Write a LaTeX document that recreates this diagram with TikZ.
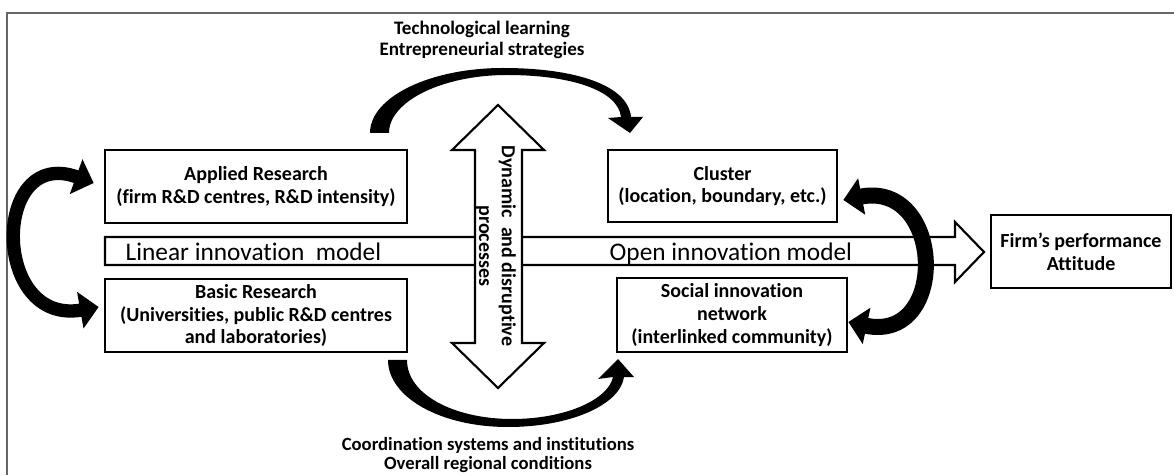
\documentclass[tikz,border=0pt]{standalone}
\usepackage{fontspec}
\setmainfont{Carlito}[Ligatures=NoCommon]
\usetikzlibrary{arrows.meta}
\newcommand{\boxfont}{\fontsize{15}{17}\selectfont\bfseries}
\newcommand{\notefont}{\fontsize{14.3}{16}\selectfont\bfseries}
\newcommand{\modelfont}{\fontsize{19}{22}\selectfont}
\tikzset{
box/.style={draw, line width=2pt, fill=white, align=center, font=\boxfont, inner sep=1pt},
note/.style={align=center, font=\notefont},
blockarrow/.style={draw, line width=1.6pt, fill=white},
twoway/.style={line width=#1, {Triangle[length=14pt,width=27pt]}-{Triangle[length=14pt,width=27pt]}},
}

\begin{document}
\begin{tikzpicture}[x=0.75pt,y=0.75pt]
\useasboundingbox (0,0) rectangle (1174,475);
% the frame
\draw[black!60, line width=1pt] (7,0) -- (7,462) -- (1174,462);

% the boxes
\node[box, minimum width=226.5pt, minimum height=54.75pt] (applied) at (256,288.5) {Applied Research\\(firm R\&D centres, R\&D intensity)};
\node[box, minimum width=226.5pt, minimum height=54.75pt] (basic) at (256,159.5) {Basic Research\\(Universities, public R\&D centres\\and laboratories)};
\node[box, minimum width=171.75pt, minimum height=54pt] (cluster) at (722.5,289) {Cluster\\(location, boundary, etc.)};
\node[box, minimum width=172.5pt, minimum height=55.5pt] (social) at (732,160) {Social innovation\\network\\(interlinked community)};
\node[box, minimum width=135pt, minimum height=54.75pt] (firm) at (1081,223.5) {Firm’s performance\\Attitude};

% the innovation model arrow
\draw[blockarrow] (105,238) -- (955,238) -- (955,253) -- (984,223) -- (955,193) -- (955,210) -- (105,210) -- cycle;
\node[anchor=base west, font=\modelfont] (linear) at (121,214) {Linear innovation\ \ model};
\node[anchor=base west, font=\modelfont] (open) at (605,214) {Open innovation model};

% the dynamic arrow
\draw[blockarrow] (498,370) -- (544,325) -- (522,325) -- (522,132) -- (544,132) -- (498,87) -- (452,132) -- (475,132) -- (475,325) -- (452,325) -- cycle;
\node[note, font=\boxfont, rotate=-90] (dynamic) at (496,229) {Dynamic\ \ and disruptive\\processes};

% the curved arrows
\fill (370,342) .. controls (370,378) and (430,407) .. (503,407)
  .. controls (575,407) and (628,390) .. (631,358)
  -- (643,358) -- (630,342) -- (608,357) -- (621,358)
  .. controls (618,385) and (570,400) .. (507,400)
  .. controls (443,400) and (389,374) .. (389,342) -- cycle;
\fill (388,115) .. controls (388,78) and (440,48) .. (508,48)
  .. controls (570,48) and (620,70) .. (624,98)
  -- (634,98) -- (618,116) -- (598,96) -- (613,98)
  .. controls (608,75) and (565,56) .. (512,56)
  .. controls (455,56) and (407,80) .. (407,115) -- cycle;
\draw[twoway=10pt] ([xshift=-7.5pt,yshift=2.6pt]applied.west) .. controls +(160:109) and +(190:109) .. ([xshift=-3.75pt,yshift=6.4pt]basic.west);
\draw[twoway=12pt] ([xshift=3.75pt,yshift=-10.5pt]cluster.east) .. controls +(11:103) and +(-12:103) .. ([yshift=-5.25pt]social.east);

% the labels
\node[note] (learning) at (482,435) {Technological learning\\Entrepreneurial strategies};
\node[note, font=\fontsize{14}{14.5}\selectfont\bfseries] (conditions) at (488,20) {Coordination systems and institutions\\Overall regional conditions};
\end{tikzpicture}
\end{document}
